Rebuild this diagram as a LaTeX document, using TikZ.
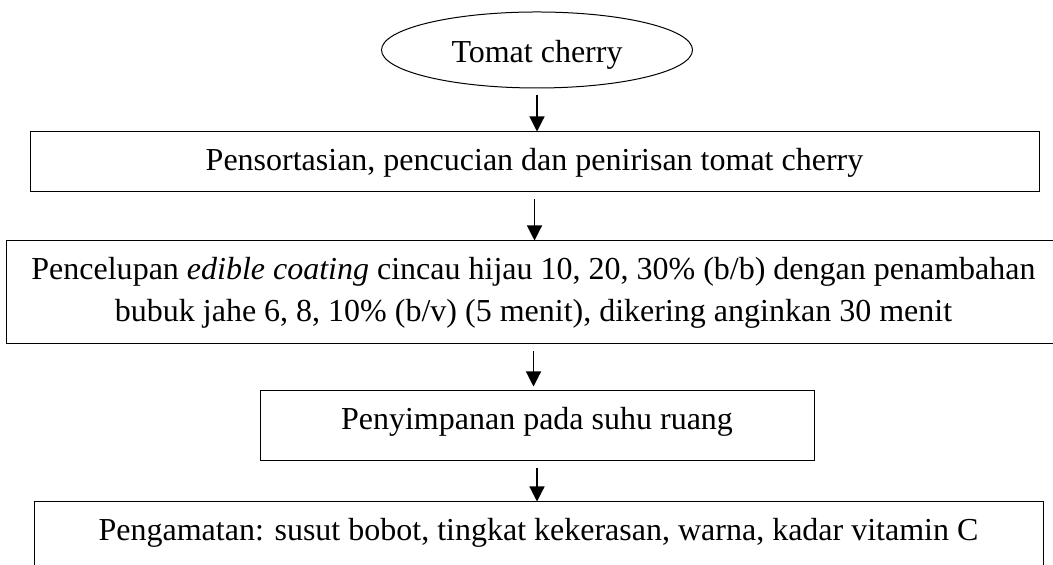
\documentclass[tikz,border=0pt]{standalone}
\usepackage{fontspec}
\setmainfont{Liberation Serif}
\usetikzlibrary{shapes.geometric, arrows.meta, positioning}

\begin{document}
\begin{tikzpicture}[
    every node/.style={font=\fontsize{16}{21}\selectfont},
    start/.style={ellipse, draw, line width=0.5pt, minimum width=155.5pt, minimum height=38pt, inner sep=0pt, text height=13pt, text depth=0pt},
    process/.style={rectangle, draw, line width=0.5pt, align=center, inner sep=0pt},
    arrow/.style={-{Triangle[length=7.5pt, width=7.5pt]}, line width=0.6pt, shorten <=3.5pt},
]
\useasboundingbox (0,0) rectangle (526.5pt,282.5pt);

% Nodes
\node [start] (tomat) at (268.5pt,257.5pt) {Tomat cherry};
\node [process, below=21.5pt of tomat, xshift=-1.25pt, minimum width=504.5pt, minimum height=30pt, text height=12.5pt, text depth=3.5pt] (sortasi) {Pensortasian, pencucian dan penirisan tomat cherry};
\node [process, below=24pt of sortasi, xshift=-0.5pt, minimum width=527pt, minimum height=51.5pt] (celup) {Pencelupan \textit{edible coating} cincau hijau 10, 20, 30\% (b/b) dengan penambahan\\ bubuk jahe 6, 8, 10\% (b/v) (5 menit), dikering anginkan 30 menit};
\node [process, below=23pt of celup, xshift=1.75pt, minimum width=277pt, minimum height=35pt, text height=11pt, text depth=7pt] (simpan) {Penyimpanan pada suhu ruang};
\node [process, below=20pt of simpan, xshift=0.75pt, minimum width=504.5pt, minimum height=51.5pt] (amat) {Pengamatan: susut bobot, tingkat kekerasan, warna, kadar vitamin C\\ \phantom{()}};

% Arrows
\draw [arrow] (tomat.south) -- (tomat.south |- sortasi.north);
\draw [arrow] (sortasi.south) -- (sortasi.south |- celup.north);
\draw [arrow, shorten >=2pt] (celup.south) -- (celup.south |- simpan.north);
\draw [arrow] (simpan.south) -- (simpan.south |- amat.north);

\end{tikzpicture}
\end{document}
